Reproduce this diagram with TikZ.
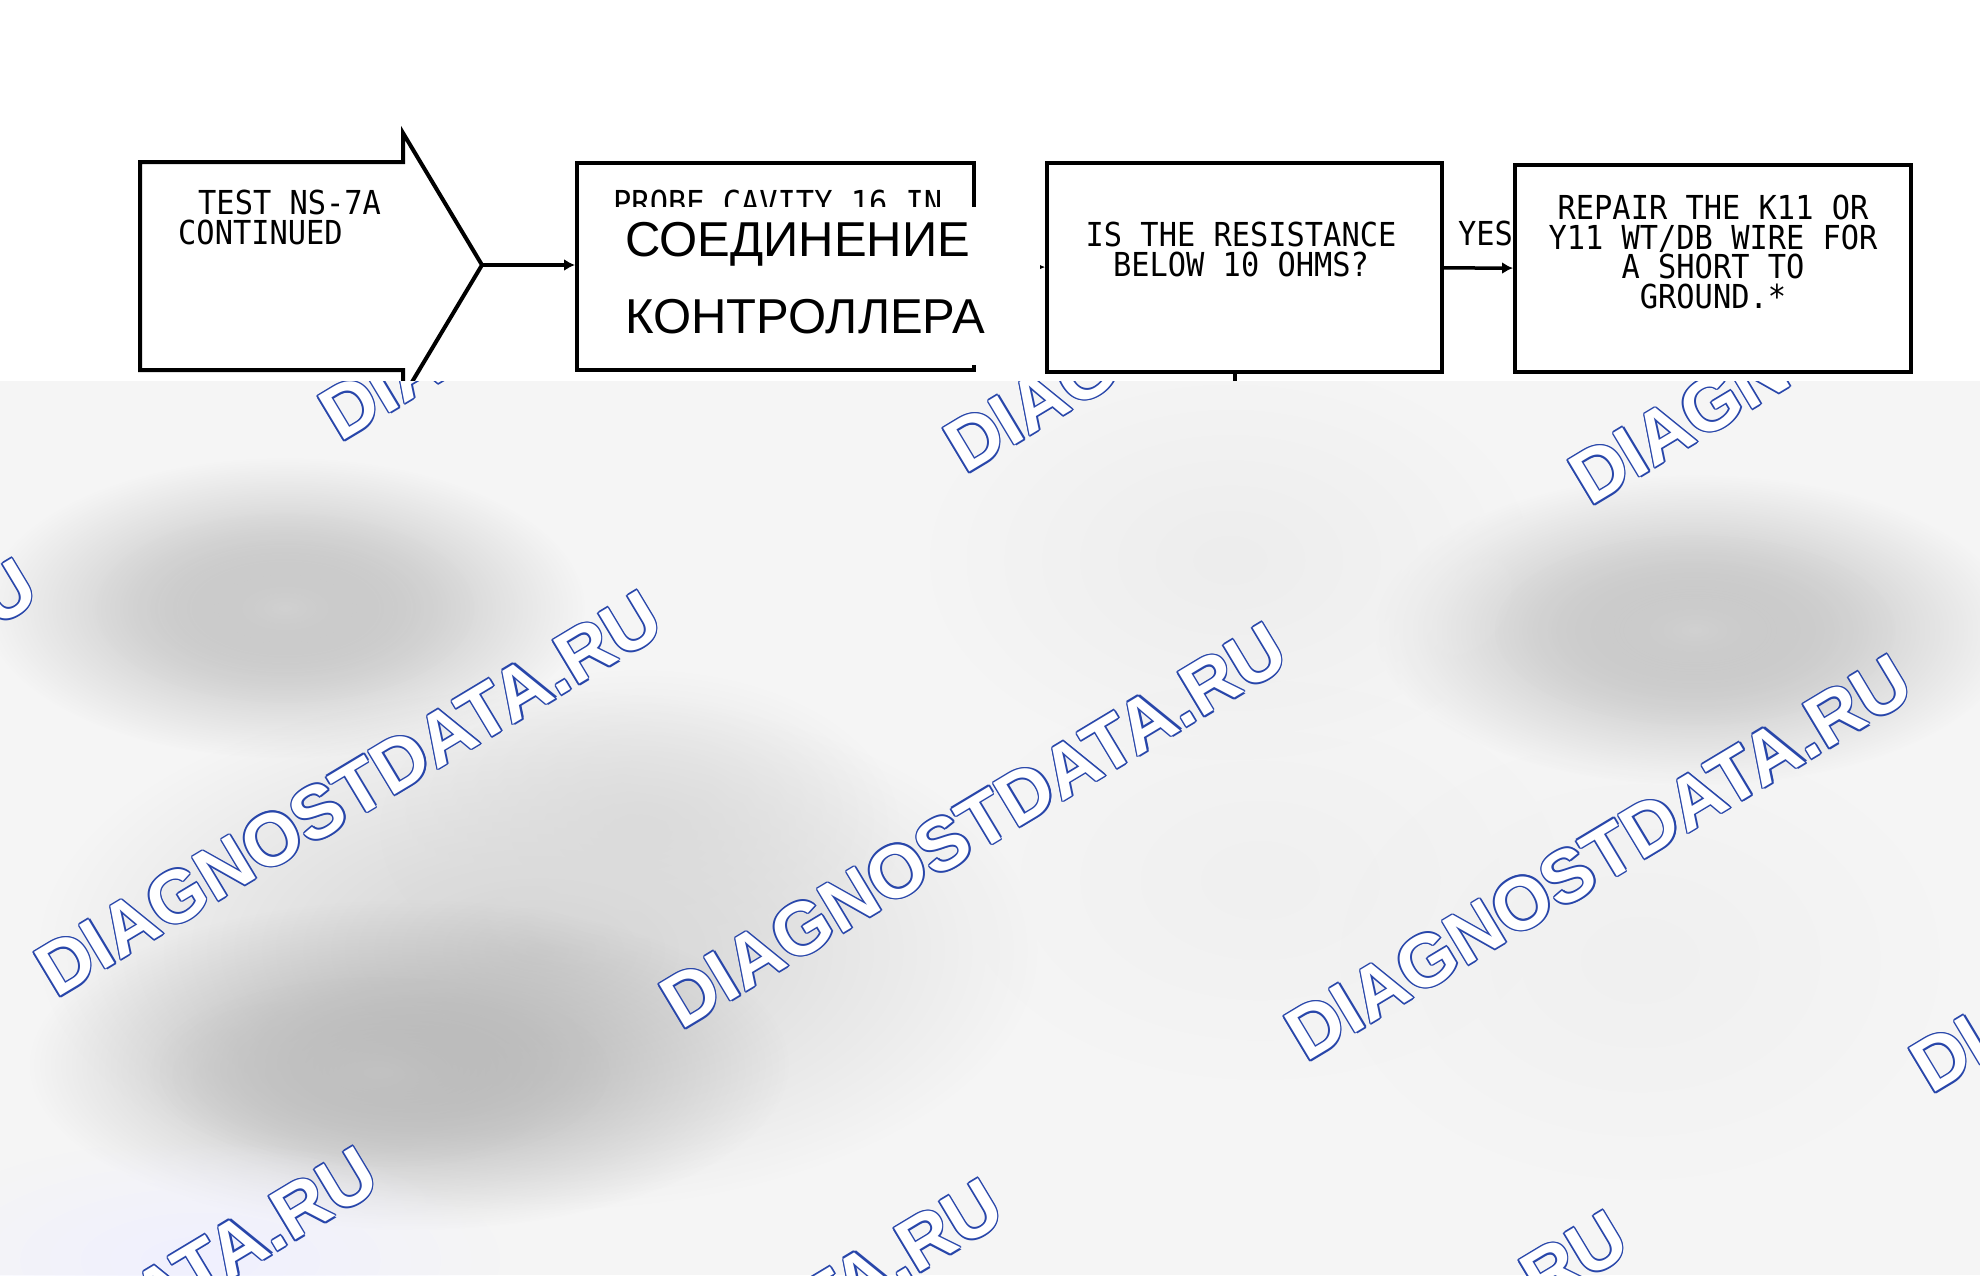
\documentclass[tikz,border=0pt]{standalone}
\usepackage{fontspec}
\usetikzlibrary{arrows.meta,fadings,calc}
\newfontfamily\plotfont[FakeStretch=0.92]{DejaVu Sans Mono}
\newfontfamily\rufont{Liberation Sans}
\newfontfamily\wmfont{Liberation Sans}
\definecolor{wmblue}{RGB}{40,70,170}

\tikzfading[name=softblob, inner color=transparent!0, outer color=transparent!100]

\tikzset{
  stepbox/.style={draw, line width=4pt, minimum width=396pt, minimum height=207pt, inner sep=0pt},
  plot/.style={font=\plotfont\fontsize{33}{29.5}\selectfont, inner sep=0pt, align=center},
  wire/.style={line width=3.5pt},
  arr/.style={wire, -{Latex[length=11pt,width=12pt]}},
  blob/.style={path fading=softblob},
  wm/.style={font=\wmfont\bfseries\fontsize{74}{74}\selectfont, anchor=base west, rotate=31, inner sep=0pt},
}

\begin{document}
\begin{tikzpicture}[x=1pt, y=-1pt]
% Background
\fill[white!96!black] (0,0) rectangle (1980,1275);
\useasboundingbox (0,0) rectangle (1980,1275);

% Blurred shadows
\fill[black!30, blob] (285,608) ellipse (300 and 150);
\fill[black!18, blob] (285,608) ellipse (190 and 95);
\fill[black!18, blob] (540,950) ellipse (500 and 260);
\fill[black!14, blob] (640,830) ellipse (260 and 160);
\fill[black!32, blob] (410,1065) ellipse (380 and 165);
\fill[black!24, blob] (380,1072) ellipse (230 and 95);
\fill[black!30, blob] (1695,630) ellipse (320 and 155);
\fill[black!18, blob] (1695,630) ellipse (200 and 95);
\fill[black!7, blob] (1230,560) ellipse (300 and 200);
\fill[black!6, blob] (1260,880) ellipse (300 and 200);
\fill[black!6, blob] (1640,960) ellipse (300 and 220);
\fill[blue!6, blob] (200,1260) ellipse (300 and 120);

% Watermarks
\foreach \r in {-1,0,1}
  \foreach \c in {-1,...,3} {
    \pgfmathsetmacro\wx{56+625*\c+284*\r}
    \pgfmathsetmacro\wy{999+32*\c-556*\r}
    \foreach \a in {0,45,...,315}
      \node[wm, text=wmblue] at ($(\wx,\wy)+(\a:1.6)$) {DIAGNOSTDATA.RU};
    \node[wm, text=white] (wm\r\c) at (\wx,\wy) {DIAGNOSTDATA.RU};
  }

% Chart strip
\fill[white] (0,0) rectangle (1980,381);

\begin{scope}
\clip (0,0) rectangle (1980,380);
% Entry arrow
\draw[line width=4pt] (140,162) -- (403,162) -- (403,133) -- (482,265) -- (403,397) -- (403,370) -- (140,370) -- cycle;
\coordinate (tip) at (482,265);
\node[plot, anchor=north west, align=left] (cont) at (178,190) {\hspace*{20pt}TEST NS-7A\\CONTINUED};

% Boxes
\node[stepbox, minimum width=397pt] (probe) at (775.5,266.5) {};
\node[plot, anchor=north west] (probetxt) at (613,190) {PROBE CAVITY 16 IN};
\node[stepbox, minimum width=395pt, minimum height=209pt] (resist) at (1244.5,267.5) {};
\node[plot, anchor=north] (resisttxt) at (1241,222) {IS THE RESISTANCE\\BELOW 10 OHMS?};
\node[stepbox] (repair) at (1713,268.5) {};
\node[plot, anchor=north] (repairtxt) at (1713,195) {REPAIR THE K11 OR\\Y11 WT/DB WIRE FOR\\A SHORT TO\\GROUND.*};

% Connectors
\draw[arr] (tip) -- (tip -| probe.west);
\draw[arr] (probe) -- (resist);
\draw[arr] (resist) -- node[plot, above=20pt, pos=0.6] (yes) {YES} (repair);
\coordinate (nostub) at (1235,390);
\draw[wire] (resist.south -| nostub) -- (nostub);
\end{scope}

% Translation patch
\fill[white] (585,207) rectangle (1040,365);
\node[font=\rufont\fontsize{49}{77}\selectfont, anchor=north west, align=left, inner sep=0pt] (rutxt) at (625,222) {СОЕДИНЕНИЕ\\КОНТРОЛЛЕРА};
\end{tikzpicture}
\end{document}
